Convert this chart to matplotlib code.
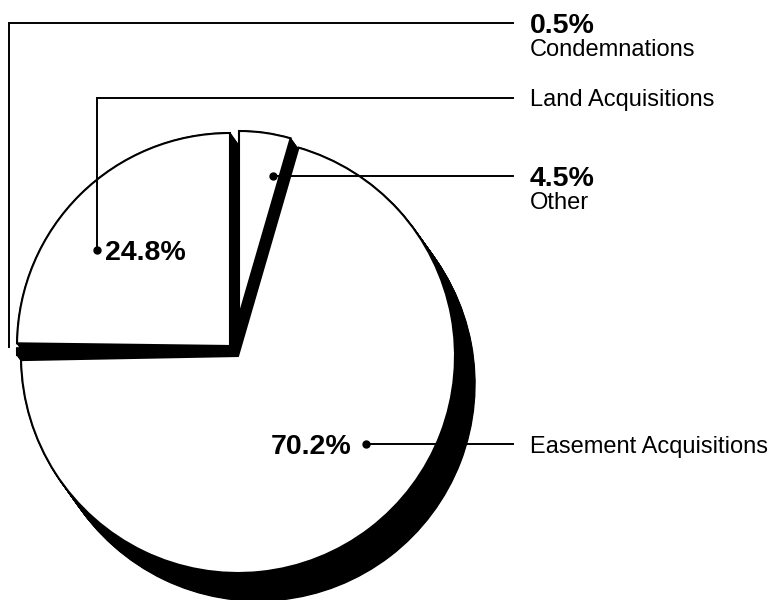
import matplotlib
matplotlib.use("Agg")
import matplotlib.pyplot as plt
from matplotlib.patches import Wedge
import numpy as np

# ---- data (clockwise from 12 o'clock) ----
categories = ["Other", "Easement Acquisitions", "Condemnations", "Land Acquisitions"]
shares = [4.5, 70.2, 0.5, 24.8]
pct_labels = ["4.5%", "70.2%", "0.5%", "24.8%"]

plt.rcParams['font.family'] = ['Liberation Sans', 'DejaVu Sans']

fig = plt.figure(figsize=(7.77, 6.0), dpi=100)
ax = fig.add_axes([0, 0, 1, 1])
ax.set_xlim(0, 777)
ax.set_ylim(600, 0)          # pixel-like layout space (y grows downward)
ax.set_aspect('equal')
ax.axis('off')

# slice layout (centres / radii in layout space), keyed by category
layout = {
    "Other": dict(center=(239, 316), r=185, face='white'),
    "Easement Acquisitions": dict(center=(238, 356), r=217, face='white'),
    "Condemnations": dict(center=(233, 351), r=216, face='black'),
    "Land Acquisitions": dict(center=(230, 346), r=213, face='white'),
}
shadow = (20, 28)

# angles from the data (standard orientation, clockwise from 90 deg)
total = sum(shares)
start = 90.0
angles = []
for s in shares:
    end = start - s / total * 360.0
    angles.append((end, start))
    start = end

# y axis is inverted -> data angle = -standard angle
def data_thetas(a_lo, a_hi):
    return -a_hi, -a_lo

# shadows (swept extrusion)
for cat, (a_lo, a_hi) in zip(categories, angles):
    L = layout[cat]
    t1, t2 = data_thetas(a_lo, a_hi)
    for t in np.linspace(0, 1, 40):
        c = (L['center'][0] + t * shadow[0], L['center'][1] + t * shadow[1])
        ax.add_patch(Wedge(c, L['r'], t1, t2, facecolor='black',
                           edgecolor='black', lw=1.0, zorder=1))

# faces
for cat, (a_lo, a_hi) in zip(categories, angles):
    L = layout[cat]
    t1, t2 = data_thetas(a_lo, a_hi)
    ax.add_patch(Wedge(L['center'], L['r'], t1, t2, facecolor=L['face'],
                       edgecolor='black', lw=1.5, zorder=2))

lw = 1.4
bold_fs = 20.5
reg_fs = 17
tx = 530

# Condemnations
ax.plot([9, 9, 513], [347, 23, 23], color='black', lw=lw, zorder=3,
        solid_joinstyle='miter')
ax.text(tx, 33, pct_labels[2], fontsize=bold_fs, fontweight='bold', va='baseline', ha='left')
ax.text(tx, 56, categories[2], fontsize=reg_fs, va='baseline', ha='left')

# Land Acquisitions
ax.plot([97, 97, 513], [250, 98, 98], color='black', lw=lw, zorder=3,
        solid_joinstyle='miter')
ax.plot([97], [250], 'o', color='black', ms=5, zorder=4)
ax.text(105, 259.5, pct_labels[3], fontsize=bold_fs, fontweight='bold', va='baseline', ha='left')
ax.text(tx, 106, categories[3], fontsize=reg_fs, va='baseline', ha='left')

# Other
ax.plot([273, 513], [176, 176], color='black', lw=lw, zorder=3)
ax.plot([273], [176], 'o', color='black', ms=5, zorder=4)
ax.text(tx, 186, pct_labels[0], fontsize=bold_fs, fontweight='bold', va='baseline', ha='left')
ax.text(tx, 209, categories[0], fontsize=reg_fs, va='baseline', ha='left')

# Easement Acquisitions
ax.plot([366, 513], [444, 444], color='black', lw=lw, zorder=3)
ax.plot([366], [444], 'o', color='black', ms=5, zorder=4)
ax.text(352, 454.5, pct_labels[1], fontsize=bold_fs, fontweight='bold', va='baseline', ha='right')
ax.text(tx, 452.5, categories[1], fontsize=reg_fs, va='baseline', ha='left')

fig.savefig("out.png", dpi=100, facecolor='white')
